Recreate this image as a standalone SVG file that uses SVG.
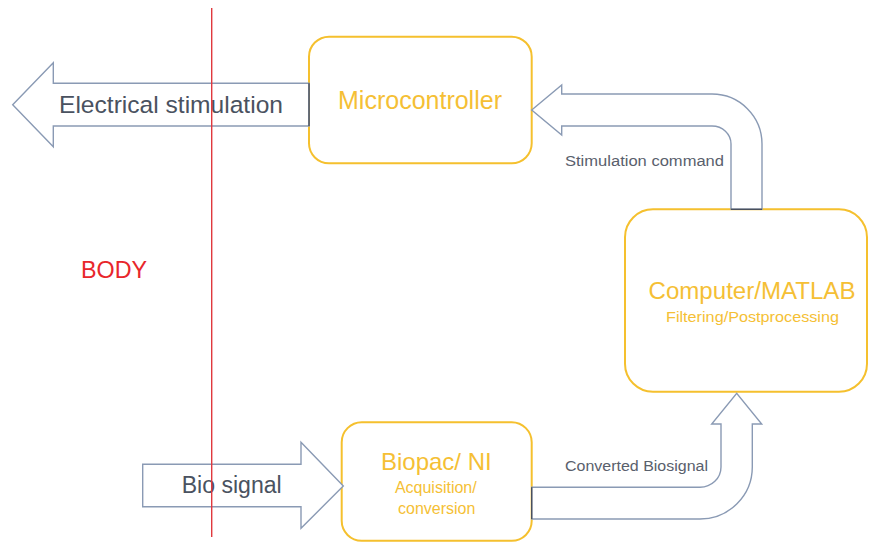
<svg xmlns="http://www.w3.org/2000/svg" width="870" height="543" viewBox="0 0 870 543">
<style>
.box{fill:#ffffff;stroke:#F5C02E;stroke-width:2}
.gold{fill:#F5BF35;font-family:"Liberation Sans",Arial,sans-serif;text-anchor:middle}
.arrow{fill:#ffffff;stroke:#8A9AB4;stroke-width:1.4;stroke-linejoin:miter}
.end{stroke:#4A505C;stroke-width:1.4}
.big{fill:#4A5260;font-family:"Liberation Sans",Arial,sans-serif}
.lbl{fill:#59606C;font-family:"Liberation Sans",Arial,sans-serif;font-size:15.5px}
</style>
<rect width="870" height="543" fill="#ffffff"/>
<g id="microcontroller">
<rect class="box" x="309" y="36.7" width="222.7" height="126.6" rx="20"/>
<text class="gold" x="420" y="109.3" font-size="25">Microcontroller</text>
</g>
<g id="computer">
<rect class="box" x="625" y="209.3" width="242" height="182.4" rx="28"/>
<text class="gold" x="752" y="299.3" font-size="23.5" textLength="207" lengthAdjust="spacingAndGlyphs">Computer/MATLAB</text>
<text class="gold" x="752.5" y="322" font-size="15.5" textLength="173" lengthAdjust="spacingAndGlyphs">Filtering/Postprocessing</text>
</g>
<g id="biopac">
<rect class="box" x="341.7" y="422.3" width="190" height="118.5" rx="20"/>
<text class="gold" x="436.3" y="470" font-size="24">Biopac/ NI</text>
<text class="gold" x="435.8" y="492.7" font-size="16">Acquisition/</text>
<text class="gold" x="436.7" y="514" font-size="16">conversion</text>
</g>
<g id="connectors">
<g id="electrical-stimulation">
<path class="arrow" d="M12.7,104.7 L53.3,62.7 L53.3,83.3 L309,83.3 L309,126 L53.3,126 L53.3,146.7 Z"/>
<line class="end" x1="309" y1="83.3" x2="309" y2="126"/>
<text class="big" x="59" y="112.7" font-size="24.5" textLength="224" lengthAdjust="spacingAndGlyphs">Electrical stimulation</text>
</g>
<g id="stimulation-command">
<path class="arrow" d="M531.7,110 L561.7,85 L561.7,94 L712,94 A50,50 0 0 1 762,144 L762,209.3 L731,209.3 L731,144 A19,18 0 0 0 712,126 L561.7,126 L561.7,135 Z"/>
<line class="end" x1="731" y1="209.3" x2="762" y2="209.3"/>
<text class="lbl" x="565" y="165.7" textLength="159" lengthAdjust="spacingAndGlyphs">Stimulation command</text>
</g>
<g id="converted-biosignal">
<path class="arrow" d="M531.7,487.3 L700,487.3 A21,20.3 0 0 0 721,467 L721,424 L711.7,424 L736.7,393.3 L761.7,424 L752.3,424 L752.3,467 A52.3,52 0 0 1 700,519 L531.7,519 Z"/>
<line class="end" x1="531.7" y1="487.3" x2="531.7" y2="519"/>
<text class="lbl" x="565" y="471" textLength="143" lengthAdjust="spacingAndGlyphs">Converted Biosignal</text>
</g>
<g id="bio-signal">
<path class="arrow" d="M142.7,464.3 L301,464.3 L301,442.3 L343.3,486 L301,528.3 L301,506.7 L142.7,506.7 Z"/>
<text class="big" x="181.7" y="493.3" font-size="23.5" textLength="100" lengthAdjust="spacingAndGlyphs">Bio signal</text>
</g>
</g>
<g id="body">
<line x1="211.7" y1="8" x2="211.7" y2="537" stroke="#E0393E" stroke-width="1.4"/>
<text x="81" y="278" font-family="Liberation Sans, Arial, sans-serif" font-size="24" fill="#E8262B" textLength="66" lengthAdjust="spacingAndGlyphs">BODY</text>
</g>
</svg>
